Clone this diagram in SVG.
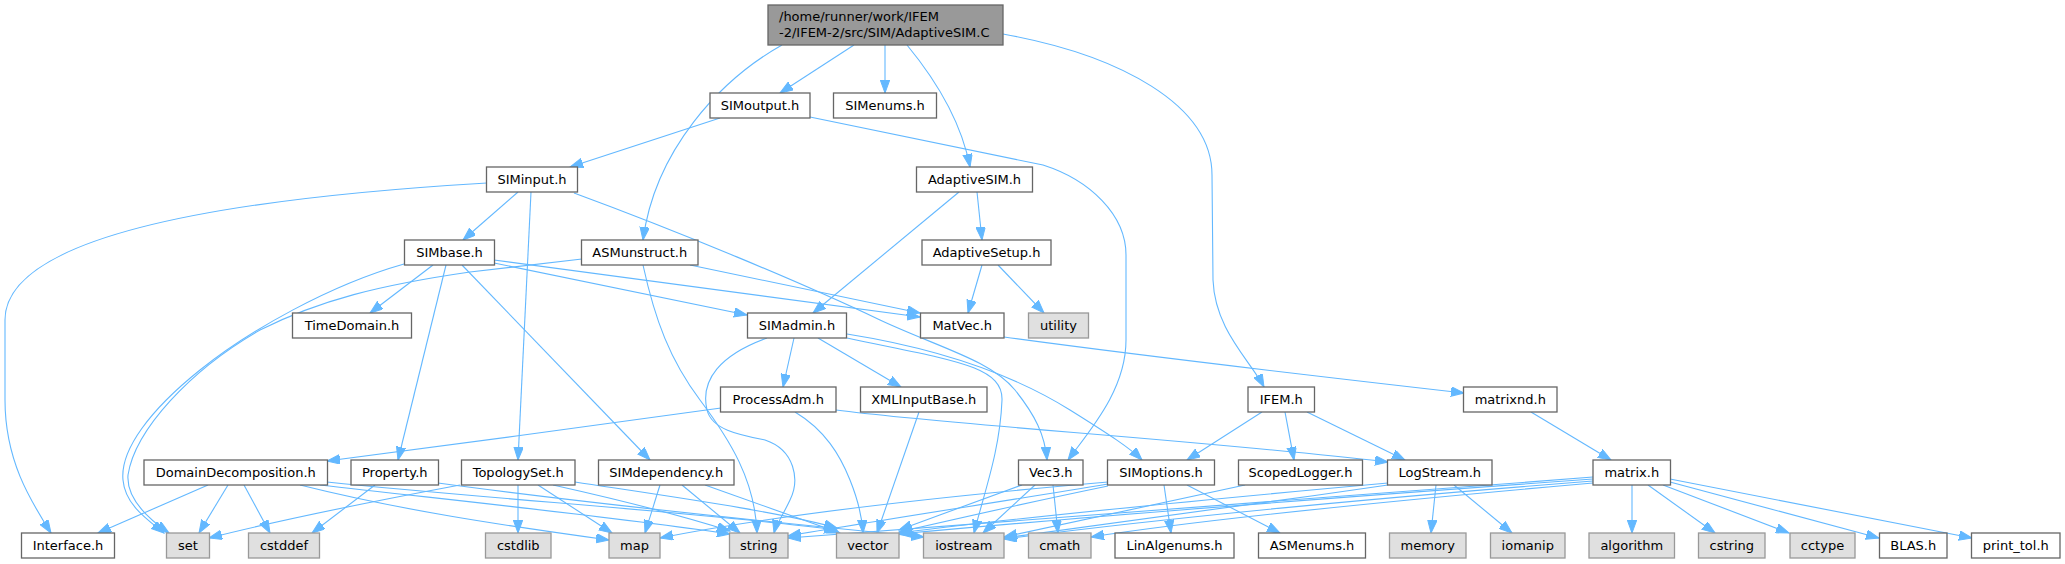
<svg xmlns="http://www.w3.org/2000/svg" width="2065" height="564" viewBox="0 0 2065 564">
<defs>
<style>
rect{stroke-width:1.3}
.n rect{fill:#ffffff;stroke:#666666}
.x rect{fill:#e0e0e0;stroke:#999999}
.r rect{fill:#999999;stroke:#666666}
text{font-family:"DejaVu Sans",sans-serif;font-size:13px;fill:#000000;text-anchor:middle}
.r text{text-anchor:start}
#edges path{fill:none;stroke:#63b8ff;stroke-width:1.1;marker-end:url(#a)}
</style>
<marker id="a" markerUnits="userSpaceOnUse" markerWidth="14" markerHeight="10" refX="13" refY="4.75" orient="auto" viewBox="0 0 14 10">
<path d="M0,0 L13,4.75 L0,9.5 z" fill="#63b8ff" stroke="#63b8ff" stroke-width="1"/>
</marker>
</defs>
<rect width="2065" height="564" fill="#ffffff"/>
<g id="edges">
<path d="M782,45 C720,80 655,150 643,240"/>
<path d="M854,45 L780,93"/>
<path d="M885,45 L885,93"/>
<path d="M907,45 C940,85 962,125 970,167"/>
<path d="M1003,34 C1120,55 1212,105 1212,175 L1213,280 C1215,330 1250,360 1264,387"/>
<path d="M720,118 L570,167"/>
<path d="M810,117 L1043,165 C1090,180 1126,215 1126,255 L1126,340 C1126,390 1090,430 1068,460"/>
<path d="M487,183 C200,200 5,240 5,320 L5,400 C5,460 30,500 51,533"/>
<path d="M518,192 L463,240"/>
<path d="M531,192 L518,460"/>
<path d="M574,193 C680,232 800,282 880,320 C940,348 990,360 1015,390 C1035,415 1045,435 1047,460"/>
<path d="M404,264 C330,285 250,330 200,370 C150,410 120,450 123,480 C125,505 148,520 164,533"/>
<path d="M582,259 L470,272 C380,285 320,300 260,330 C190,370 135,430 128,475 C126,500 150,520 169,533"/>
<path d="M433,265 L370,313"/>
<path d="M446,265 L398,460"/>
<path d="M462,265 L650,460"/>
<path d="M494,263 L747,315"/>
<path d="M494,260 L920,317"/>
<path d="M690,265 L920,313"/>
<path d="M643,265 C655,320 670,360 700,400 C730,440 755,480 757,533"/>
<path d="M959,192 L813,313"/>
<path d="M977,192 L982,240"/>
<path d="M982,265 L968,313"/>
<path d="M998,265 L1044,313"/>
<path d="M794,338 L783,387"/>
<path d="M818,338 L901,387"/>
<path d="M767,338 C720,355 700,380 707,410 C712,430 740,435 765,440 C795,450 800,480 790,500 C783,515 776,525 774,533"/>
<path d="M847,338 C950,360 1003,365 1002,400 C1000,450 985,490 974,533"/>
<path d="M847,334 C960,352 1030,385 1070,410 C1110,435 1130,448 1142,460"/>
<path d="M721,408 C600,425 450,445 327,461"/>
<path d="M795,412 C825,430 840,455 850,480 C858,500 862,515 863,533"/>
<path d="M836,410 C950,425 1200,440 1388,462"/>
<path d="M919,412 L877,533"/>
<path d="M1262,412 L1187,460"/>
<path d="M1285,412 L1294,460"/>
<path d="M1307,412 L1405,460"/>
<path d="M1004,337 C1150,357 1350,380 1464,393"/>
<path d="M1531,412 L1611,460"/>
<path d="M208,485 L98,533"/>
<path d="M228,485 L199,533"/>
<path d="M244,485 L270,533"/>
<path d="M300,485 C400,510 500,525 609,540"/>
<path d="M320,485 C450,500 600,515 730,534"/>
<path d="M327,482 C500,500 700,512 837,530"/>
<path d="M375,485 L312,533"/>
<path d="M438,483 C600,505 800,525 924,537"/>
<path d="M460,485 C380,500 280,520 209,538"/>
<path d="M518,485 L518,533"/>
<path d="M538,485 L612,533"/>
<path d="M553,485 C620,500 680,515 730,531"/>
<path d="M575,482 C680,498 780,512 837,528"/>
<path d="M660,485 L645,533"/>
<path d="M682,485 L740,533"/>
<path d="M705,485 L840,533"/>
<path d="M1022,485 C980,500 940,515 899,530"/>
<path d="M1035,485 L983,533"/>
<path d="M1053,485 L1058,533"/>
<path d="M1108,482 C900,500 750,520 660,538"/>
<path d="M1108,484 C1000,502 880,520 788,536"/>
<path d="M1108,486 C1040,500 960,518 899,532"/>
<path d="M1164,485 L1171,533"/>
<path d="M1187,485 L1280,533"/>
<path d="M1245,485 C1150,505 1060,525 1004,537"/>
<path d="M1388,483 C1200,500 1000,520 899,533"/>
<path d="M1388,485 C1250,505 1100,525 1004,538"/>
<path d="M1436,485 L1431,533"/>
<path d="M1454,485 L1512,533"/>
<path d="M1593,477 C1300,500 1000,520 788,538"/>
<path d="M1593,479 C1300,500 1050,520 899,534"/>
<path d="M1593,481 C1350,500 1150,520 1004,539"/>
<path d="M1593,483 C1400,500 1200,520 1091,537"/>
<path d="M1632,485 L1632,533"/>
<path d="M1648,485 L1715,533"/>
<path d="M1663,485 L1789,533"/>
<path d="M1670,482 L1879,538"/>
<path d="M1670,479 L1972,538"/>
</g>
<g id="root" class="r"><rect x="768" y="5" width="235" height="40"/><text x="779" y="21">/home/runner/work/IFEM</text><text x="779" y="37">-2/IFEM-2/src/SIM/AdaptiveSIM.C</text></g>
<g id="SIMoutput" class="n"><rect x="710" y="93" width="100" height="25"/><text x="760" y="110">SIMoutput.h</text></g>
<g id="SIMenums" class="n"><rect x="833.5" y="93" width="103" height="25"/><text x="885" y="110">SIMenums.h</text></g>
<g id="SIMinput" class="n"><rect x="486.5" y="167" width="91" height="25"/><text x="532" y="184">SIMinput.h</text></g>
<g id="AdaptiveSIM" class="n"><rect x="916.5" y="167" width="116" height="25"/><text x="974.5" y="184">AdaptiveSIM.h</text></g>
<g id="SIMbase" class="n"><rect x="404.5" y="240" width="90" height="25"/><text x="449.5" y="257">SIMbase.h</text></g>
<g id="ASMunstruct" class="n"><rect x="581.5" y="240" width="116.5" height="25"/><text x="639.75" y="257">ASMunstruct.h</text></g>
<g id="AdaptiveSetup" class="n"><rect x="922" y="240" width="129" height="25"/><text x="986.5" y="257">AdaptiveSetup.h</text></g>
<g id="TimeDomain" class="n"><rect x="292.5" y="313" width="119" height="25"/><text x="352" y="330">TimeDomain.h</text></g>
<g id="SIMadmin" class="n"><rect x="747.5" y="313" width="99" height="25"/><text x="797" y="330">SIMadmin.h</text></g>
<g id="MatVec" class="n"><rect x="920.5" y="313" width="83.5" height="25"/><text x="962.25" y="330">MatVec.h</text></g>
<g id="utility" class="x"><rect x="1028.5" y="313" width="60" height="25"/><text x="1058.5" y="330">utility</text></g>
<g id="ProcessAdm" class="n"><rect x="720.5" y="387" width="115.5" height="25"/><text x="778.25" y="404">ProcessAdm.h</text></g>
<g id="XMLInputBase" class="n"><rect x="860.5" y="387" width="126.5" height="25"/><text x="923.75" y="404">XMLInputBase.h</text></g>
<g id="IFEM" class="n"><rect x="1248" y="387" width="66.5" height="25"/><text x="1281.25" y="404">IFEM.h</text></g>
<g id="matrixnd" class="n"><rect x="1463.5" y="387" width="93.5" height="25"/><text x="1510.25" y="404">matrixnd.h</text></g>
<g id="DomainDecomposition" class="n"><rect x="144" y="460" width="183.5" height="25"/><text x="235.75" y="477">DomainDecomposition.h</text></g>
<g id="Property" class="n"><rect x="351" y="460" width="87.5" height="25"/><text x="394.75" y="477">Property.h</text></g>
<g id="TopologySet" class="n"><rect x="461.5" y="460" width="113.5" height="25"/><text x="518.25" y="477">TopologySet.h</text></g>
<g id="SIMdependency" class="n"><rect x="598.5" y="460" width="135.5" height="25"/><text x="666.25" y="477">SIMdependency.h</text></g>
<g id="Vec3" class="n"><rect x="1018.5" y="460" width="64.5" height="25"/><text x="1050.75" y="477">Vec3.h</text></g>
<g id="SIMoptions" class="n"><rect x="1107.5" y="460" width="107" height="25"/><text x="1161" y="477">SIMoptions.h</text></g>
<g id="ScopedLogger" class="n"><rect x="1238.5" y="460" width="124" height="25"/><text x="1300.5" y="477">ScopedLogger.h</text></g>
<g id="LogStream" class="n"><rect x="1387.5" y="460" width="104.5" height="25"/><text x="1439.75" y="477">LogStream.h</text></g>
<g id="matrix" class="n"><rect x="1593" y="460" width="77.5" height="25"/><text x="1631.75" y="477">matrix.h</text></g>
<g id="Interface" class="n"><rect x="21.5" y="533" width="93" height="25"/><text x="68" y="550">Interface.h</text></g>
<g id="set" class="x"><rect x="166.5" y="533" width="43" height="25"/><text x="188" y="550">set</text></g>
<g id="cstddef" class="x"><rect x="248.5" y="533" width="71" height="25"/><text x="284" y="550">cstddef</text></g>
<g id="cstdlib" class="x"><rect x="485.5" y="533" width="65.5" height="25"/><text x="518.25" y="550">cstdlib</text></g>
<g id="map" class="x"><rect x="609" y="533" width="51" height="25"/><text x="634.5" y="550">map</text></g>
<g id="string" class="x"><rect x="729.5" y="533" width="58.5" height="25"/><text x="758.75" y="550">string</text></g>
<g id="vector" class="x"><rect x="836.5" y="533" width="62.5" height="25"/><text x="867.75" y="550">vector</text></g>
<g id="iostream" class="x"><rect x="923.5" y="533" width="80.5" height="25"/><text x="963.75" y="550">iostream</text></g>
<g id="cmath" class="x"><rect x="1028.5" y="533" width="62.5" height="25"/><text x="1059.75" y="550">cmath</text></g>
<g id="LinAlgenums" class="n"><rect x="1115" y="533" width="119" height="25"/><text x="1174.5" y="550">LinAlgenums.h</text></g>
<g id="ASMenums" class="n"><rect x="1258.5" y="533" width="107" height="25"/><text x="1312" y="550">ASMenums.h</text></g>
<g id="memory" class="x"><rect x="1389.5" y="533" width="76.5" height="25"/><text x="1427.75" y="550">memory</text></g>
<g id="iomanip" class="x"><rect x="1490.5" y="533" width="74.5" height="25"/><text x="1527.75" y="550">iomanip</text></g>
<g id="algorithm" class="x"><rect x="1589" y="533" width="85.5" height="25"/><text x="1631.75" y="550">algorithm</text></g>
<g id="cstring" class="x"><rect x="1698.5" y="533" width="66.5" height="25"/><text x="1731.75" y="550">cstring</text></g>
<g id="cctype" class="x"><rect x="1790" y="533" width="65" height="25"/><text x="1822.5" y="550">cctype</text></g>
<g id="BLAS" class="n"><rect x="1879.5" y="533" width="67.5" height="25"/><text x="1913.25" y="550">BLAS.h</text></g>
<g id="print_tol" class="n"><rect x="1971.5" y="533" width="88.5" height="25"/><text x="2015.75" y="550">print_tol.h</text></g>
</svg>
